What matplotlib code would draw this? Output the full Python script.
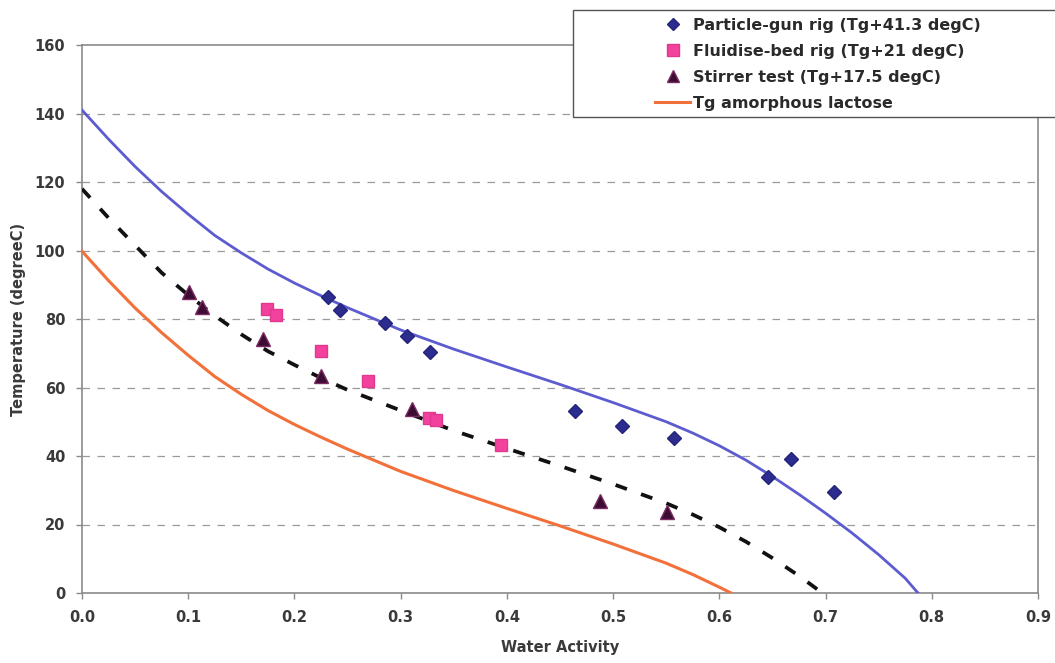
import matplotlib
matplotlib.use("Agg")
import matplotlib.pyplot as plt
from matplotlib.lines import Line2D
from matplotlib.patches import Rectangle

plt.rcParams["font.family"] = ["DejaVu Sans"]

# Measured data points (water activity, temperature in degC)
gun_aw = [0.232, 0.243, 0.285, 0.306, 0.328, 0.464, 0.508, 0.557, 0.646, 0.667, 0.708]
gun_t = [86.4, 82.6, 78.8, 75.0, 70.4, 53.1, 48.8, 45.2, 34.0, 39.2, 29.6]

bed_aw = [0.174, 0.183, 0.225, 0.269, 0.327, 0.333, 0.394]
bed_t = [82.8, 81.2, 70.7, 61.9, 51.0, 50.6, 43.2]

stir_aw = [0.101, 0.1125, 0.170, 0.225, 0.311, 0.488, 0.551]
stir_t = [88.0, 83.4, 74.1, 63.4, 53.6, 26.9, 23.7]

# Glass transition curve of amorphous lactose
tg_aw = [0.0, 0.025, 0.05, 0.075, 0.1, 0.125, 0.15, 0.175, 0.2, 0.225, 0.25,
         0.3, 0.35, 0.4, 0.45, 0.5, 0.55, 0.575, 0.6, 0.611]
tg_t = [99.8, 91.2, 83.2, 76.0, 69.4, 63.2, 58.0, 53.3, 49.2, 45.5, 42.0,
        35.5, 29.9, 24.7, 19.6, 14.3, 8.7, 5.4, 1.7, 0.0]

# Tg + 41.3 degC curve
gun_curve_aw = [0.0, 0.025, 0.05, 0.075, 0.1, 0.125, 0.15, 0.175, 0.2, 0.225, 0.25,
                0.3, 0.35, 0.4, 0.45, 0.5, 0.55, 0.575, 0.6, 0.625, 0.65, 0.675,
                0.7, 0.725, 0.75, 0.775, 0.787]
gun_curve_t = [141, 132.5, 124.5, 117.2, 110.6, 104.4, 99.3, 94.6, 90.5, 86.8, 83.3,
               76.8, 71.2, 66.0, 60.9, 55.6, 50.0, 46.7, 43.0, 38.8, 34.0, 28.8,
               23.3, 17.5, 11.2, 4.3, 0.0]

# Tg + 17.5 degC curve
stir_curve_aw = [0.0, 0.025, 0.05, 0.075, 0.1, 0.125, 0.15, 0.175, 0.2, 0.225, 0.25,
                 0.3, 0.35, 0.4, 0.45, 0.5, 0.55, 0.575, 0.6, 0.625, 0.65, 0.675,
                 0.697]
stir_curve_t = [118, 109.5, 101.5, 93.5, 87.0, 81.0, 75.5, 70.6, 66.6, 62.8, 59.3,
                53.3, 47.4, 42.2, 37.1, 31.8, 26.2, 22.9, 19.2, 15.0, 10.2, 5.0,
                0.0]

x_ticks = [0.0, 0.1, 0.2, 0.3, 0.4, 0.5, 0.6, 0.7, 0.8, 0.9]
y_ticks = [0, 20, 40, 60, 80, 100, 120, 140, 160]

W, H = 1055, 663
fig = plt.figure(figsize=(W / 100, H / 100), dpi=100)
ax = fig.add_axes([82 / W, 1 - 593 / H, (1038 - 82) / W, (593 - 45) / H])

text_col = "#3a3a3a"
frame_col = "#8a8a8a"

# horizontal dashed grid
for yv in y_ticks[1:-1]:
    ax.axhline(yv, color="#9a9a9a", lw=0.9, ls=(0, (6, 6)), zorder=1)

ax.plot(gun_curve_aw, gun_curve_t, color="#5c5cd0", lw=2.0, zorder=3)
ax.plot(stir_curve_aw, stir_curve_t, color="#111111", lw=2.7,
        ls=(0, (3.2, 4.0)), zorder=3)
ax.plot(tg_aw, tg_t, color="#f2703a", lw=2.2, zorder=3)

ax.plot(gun_aw, gun_t, ls="none", marker="D", ms=7.5, mfc="#2c2c8e",
        mec="#24247a", zorder=4)
ax.plot(bed_aw, bed_t, ls="none", marker="s", ms=9, mfc="#f2429e",
        mec="#e0388f", zorder=4)
ax.plot(stir_aw, stir_t, ls="none", marker="^", ms=9.5, mfc="#3d0c33",
        mec="#7a2c62", zorder=4)

ax.set_xlim(0, 0.9)
ax.set_ylim(0, 160)
ax.set_xticks(x_ticks)
ax.set_xticklabels([f"{v:.1f}" for v in x_ticks])
ax.set_yticks(y_ticks)
ax.tick_params(axis="both", direction="out", length=4, width=1,
               color=frame_col, labelcolor=text_col, labelsize=10.5)
ax.tick_params(axis="x", pad=8)
ax.tick_params(axis="y", pad=8)
for lbl in ax.get_xticklabels() + ax.get_yticklabels():
    lbl.set_fontweight("bold")
for sp in ax.spines.values():
    sp.set_color(frame_col)
    sp.set_linewidth(1.2)

ax.set_xlabel("Water Activity", fontsize=10.5, fontweight="bold",
              color=text_col, labelpad=11)
ax.set_ylabel("Temperature (degreeC)", fontsize=10.5, fontweight="bold",
              color=text_col, labelpad=6)

# legend box, running off the right edge of the figure
box_l, box_t, box_b = 573, 10, 117
fig.patches.append(Rectangle((box_l / W, 1 - box_b / H), (W + 20 - box_l) / W,
                             (box_b - box_t) / H, transform=fig.transFigure,
                             facecolor="white", edgecolor="#555555", lw=1.0,
                             zorder=2))

handles = [
    Line2D([], [], ls="none", marker="D", ms=6, mfc="#2c2c8e", mec="#24247a"),
    Line2D([], [], ls="none", marker="s", ms=8, mfc="#f2429e", mec="#e0388f"),
    Line2D([], [], ls="none", marker="^", ms=8.5, mfc="#3d0c33", mec="#7a2c62"),
    Line2D([], [], color="#f2703a", lw=2.2),
]
labels = ["Particle-gun rig (Tg+41.3 degC)", "Fluidise-bed rig (Tg+21 degC)",
          "Stirrer test (Tg+17.5 degC)", "Tg amorphous lactose"]
leg = fig.legend(handles, labels, loc="upper left",
                 bbox_to_anchor=(655 / W, 1 - 18 / H),
                 frameon=False, borderpad=0.0, borderaxespad=0,
                 handlelength=2.2, handletextpad=0.15, labelspacing=0.68,
                 prop={"size": 11.5, "weight": "bold"})
leg.set_zorder(5)
for t in leg.get_texts():
    t.set_color("#2a2a2a")

fig.savefig("out.png", dpi=100, facecolor="white")
